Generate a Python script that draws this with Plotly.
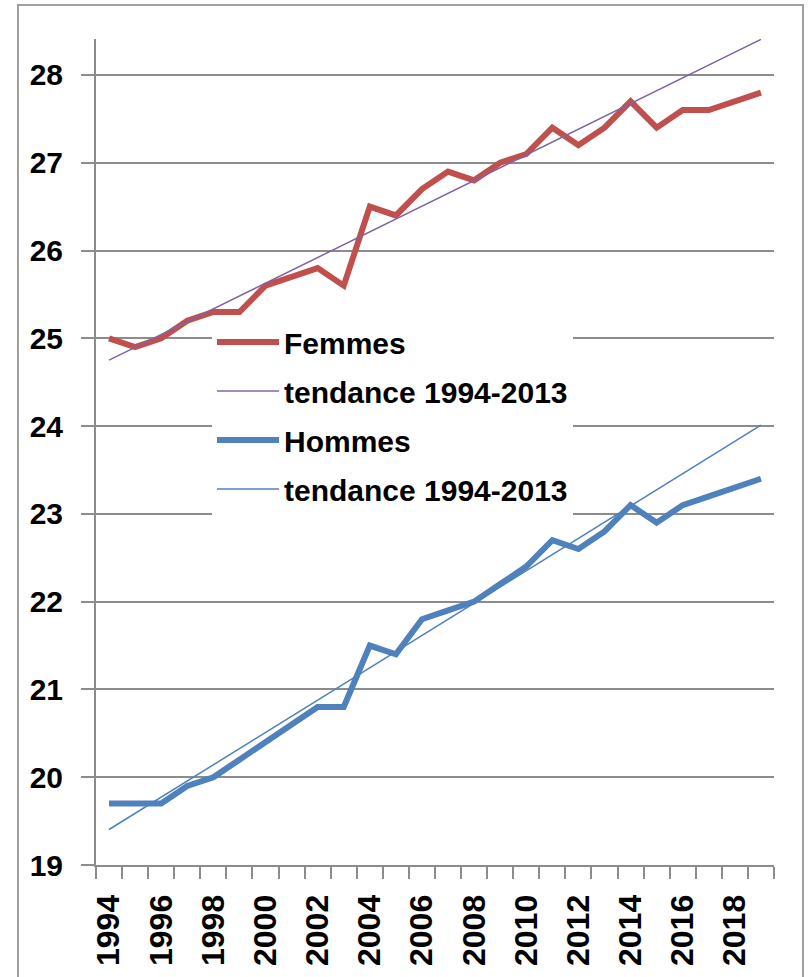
import numpy as np
import plotly.graph_objects as go

years = list(range(1994, 2020))
femmes = [25.0, 24.9, 25.0, 25.2, 25.3, 25.3, 25.6, 25.7, 25.8, 25.6,
          26.5, 26.4, 26.7, 26.9, 26.8, 27.0, 27.1, 27.4, 27.2, 27.4,
          27.7, 27.4, 27.6, 27.6, 27.7, 27.8]
hommes = [19.7, 19.7, 19.7, 19.9, 20.0, 20.2, 20.4, 20.6, 20.8, 20.8,
          21.5, 21.4, 21.8, 21.9, 22.0, 22.2, 22.4, 22.7, 22.6, 22.8,
          23.1, 22.9, 23.1, 23.2, 23.3, 23.4]
trend_start, trend_end = 1994, 2013
tick_years = list(range(1994, 2019, 2))
tick_labels = [str(y) for y in tick_years]

def trend(values):
    xs = np.array([y for y in years if trend_start <= y <= trend_end])
    ys = np.array([v for y, v in zip(years, values) if trend_start <= y <= trend_end])
    slope, icpt = np.polyfit(xs, ys, 1)
    xe = np.array([years[0], years[-1]])
    return xe.tolist(), (slope * xe + icpt).tolist()

RED = "#C0504D"
BLUE = "#4F81BD"
PURPLE = "#8064A2"
GRID = "#8C8C8C"
FONT = "Liberation Sans"

fig = go.Figure()
tf_x, tf_y = trend(femmes)
th_x, th_y = trend(hommes)

fig.add_trace(go.Scatter(x=years, y=femmes, mode="lines", name="Femmes",
                         line=dict(color=RED, width=6), legendgroup="a",
                         legendrank=1))
fig.add_trace(go.Scatter(x=years, y=hommes, mode="lines", name="Hommes",
                         line=dict(color=BLUE, width=6), legendgroup="c",
                         legendrank=3))
fig.add_trace(go.Scatter(x=tf_x, y=tf_y, mode="lines", name="tendance 1994-2013",
                         line=dict(color=PURPLE, width=1.5), legendgroup="b",
                         legendrank=2))
fig.add_trace(go.Scatter(x=th_x, y=th_y, mode="lines", name="tendance 1994-2013",
                         line=dict(color=BLUE, width=1.5), legendgroup="d",
                         legendrank=4))

fig.update_layout(
    width=810, height=977,
    margin=dict(l=96, r=36, t=39, b=112),
    paper_bgcolor="white", plot_bgcolor="white",
    font=dict(family=FONT, size=30, color="black", weight="bold"),
    showlegend=True,
    legend=dict(x=(212 - 96) / 678, y=(865 - 316) / 826, xanchor="left", yanchor="top",
                bgcolor="white", borderwidth=0, tracegroupgap=7,
                itemwidth=62,
                font=dict(family=FONT, size=30, color="black", weight="bold")),
    xaxis=dict(range=[1993.5, 2019.5], tickmode="array", tickvals=tick_years,
               ticktext=tick_labels, tickangle=-90, ticks="", showgrid=False,
               zeroline=False, showline=True, linecolor=GRID, linewidth=2,
               ticklabelstandoff=15,
               tickfont=dict(family=FONT, size=32, color="black", weight="bold"),
               minor=dict(tickmode="linear", tick0=1993.5, dtick=1, ticks="outside",
                          ticklen=12, tickwidth=2, tickcolor=GRID, showgrid=False)),
    yaxis=dict(range=[19, 28.41], dtick=1, tick0=19, ticks="outside", ticklen=13,
               tickwidth=2, tickcolor=GRID, showgrid=True, gridcolor=GRID, gridwidth=2,
               zeroline=False, showline=True, linecolor=GRID, linewidth=2,
               ticklabelstandoff=12,
               tickfont=dict(family=FONT, size=30, color="black", weight="bold")),
)

fig.add_shape(type="rect", xref="paper", yref="paper",
              x0=(18 - 96) / 678, x1=(803 - 96) / 678,
              y0=(865 - 1000) / 826, y1=(865 - 5) / 826,
              line=dict(color="#A0A0A0", width=2), fillcolor="rgba(0,0,0,0)",
              layer="below")

fig.write_html("out.html", config={"displayModeBar": False},
               post_script="document.body.style.margin='0';document.body.style.overflow='hidden';")
